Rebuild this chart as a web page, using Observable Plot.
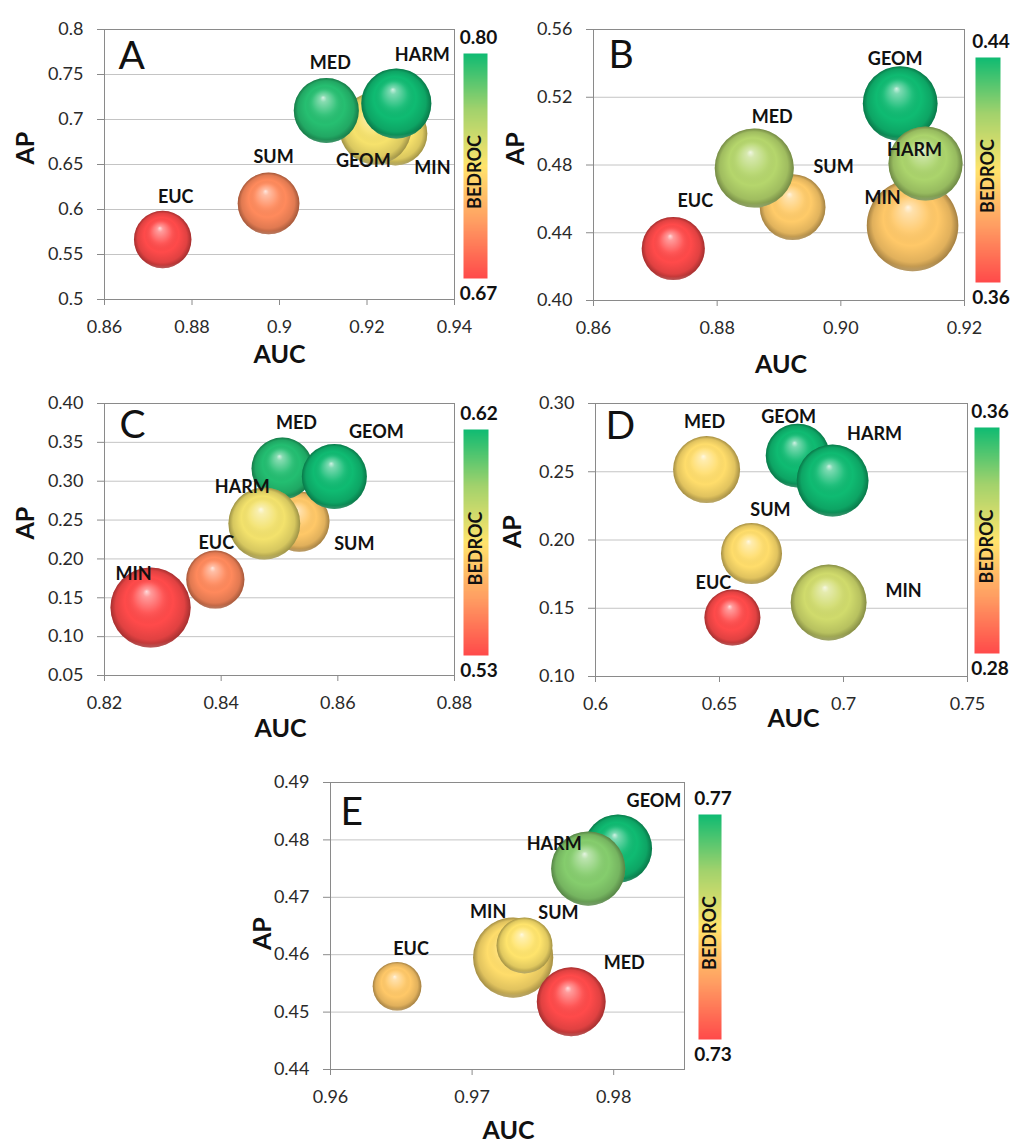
<!DOCTYPE html>
<html>
<head>
<meta charset="utf-8">
<script src="https://cdn.jsdelivr.net/npm/d3@7"></script>
<script src="https://cdn.jsdelivr.net/npm/@observablehq/plot@0.6"></script>
<style>
  html, body { margin: 0; padding: 0; background: #fff; }
  body { width: 1014px; height: 1147px; position: relative; overflow: hidden; font-family: Lato, "Open Sans", sans-serif; }
  .layer { position: absolute; left: 0; top: 0; }
  .layer svg { overflow: visible; max-width: none; }
</style>
</head>
<body>
<svg width="0" height="0" style="position:absolute">
  <defs>
    <radialGradient id="shine" cx="0.5" cy="0.5" r="0.5" fx="0.45" fy="0.3">
      <stop offset="0" stop-color="#fff" stop-opacity="0.8"/>
      <stop offset="0.1" stop-color="#fff" stop-opacity="0.45"/>
      <stop offset="0.38" stop-color="#fff" stop-opacity="0.08"/>
      <stop offset="0.6" stop-color="#000" stop-opacity="0"/>
      <stop offset="0.86" stop-color="#000" stop-opacity="0.12"/>
      <stop offset="1" stop-color="#000" stop-opacity="0.36"/>
    </radialGradient>
    <radialGradient id="rim" cx="0.5" cy="0.25" r="0.8">
      <stop offset="0.87" stop-color="#fff" stop-opacity="0"/>
      <stop offset="1" stop-color="#fff" stop-opacity="0.4"/>
    </radialGradient>
  </defs>
</svg>
<script>
// ================= DATA =================
// Panel A
const aNames  = ["EUC", "SUM", "MIN", "GEOM", "MED", "HARM"];
const aAUC    = [0.8733, 0.8975, 0.9265, 0.9219, 0.9107, 0.9267];
const aAP     = [0.5667, 0.6067, 0.6844, 0.6900, 0.7100, 0.7178];
const aBEDROC = [0.670, 0.695, 0.737, 0.738, 0.795, 0.800];
const aSize   = [39, 45, 48, 61, 50, 58];
const aXTicks = [0.86, 0.88, 0.90, 0.92, 0.94];
const aYTicks = [0.5, 0.55, 0.6, 0.65, 0.7, 0.75, 0.8];
const aBedrocRange = [0.67, 0.80];

// Panel B
const bNames  = ["EUC", "SUM", "MED", "MIN", "GEOM", "HARM"];
const bAUC    = [0.8729, 0.8922, 0.8860, 0.9116, 0.9096, 0.9137];
const bAP     = [0.4307, 0.4551, 0.4782, 0.4443, 0.5163, 0.4809];
const bBEDROC = [0.360, 0.393, 0.416, 0.392, 0.440, 0.418];
const bSize   = [47, 51, 74, 99, 66, 65];
const bXTicks = [0.86, 0.88, 0.90, 0.92];
const bYTicks = [0.40, 0.44, 0.48, 0.52, 0.56];
const bBedrocRange = [0.36, 0.44];

// Panel C
const cNames  = ["MIN", "EUC", "SUM", "MED", "GEOM", "HARM"];
const cAUC    = [0.8279, 0.8390, 0.8534, 0.8505, 0.8594, 0.8474];
const cAP     = [0.1375, 0.1735, 0.2481, 0.3164, 0.3061, 0.2456];
const cBEDROC = [0.530, 0.547, 0.566, 0.617, 0.620, 0.578];
const cSize   = [76, 40, 43, 45, 50, 61];
const cXTicks = [0.82, 0.84, 0.86, 0.88];
const cYTicks = [0.05, 0.10, 0.15, 0.20, 0.25, 0.30, 0.35, 0.40];
const cBedrocRange = [0.53, 0.62];

// Panel D
const dNames  = ["EUC", "MIN", "SUM", "MED", "GEOM", "HARM"];
const dAUC    = [0.6552, 0.6940, 0.6629, 0.6448, 0.6815, 0.6956];
const dAP     = [0.1432, 0.1542, 0.1901, 0.2516, 0.2619, 0.2436];
const dBEDROC = [0.280, 0.330, 0.318, 0.318, 0.360, 0.360];
const dSize   = [37, 68, 44, 53, 48, 61];
const dXTicks = [0.6, 0.65, 0.7, 0.75];
const dYTicks = [0.10, 0.15, 0.20, 0.25, 0.30];
const dBedrocRange = [0.28, 0.36];

// Panel E
const eNames  = ["EUC", "MIN", "SUM", "MED", "GEOM", "HARM"];
const eAUC    = [0.9647, 0.9729, 0.9737, 0.9770, 0.9803, 0.9782];
const eAP     = [0.4545, 0.4595, 0.4616, 0.4518, 0.4785, 0.4750];
const eBEDROC = [0.746, 0.749, 0.750, 0.730, 0.770, 0.762];
const eSize   = [28, 76, 37, 56, 55, 65];
const eXTicks = [0.96, 0.97, 0.98];
const eYTicks = [0.44, 0.45, 0.46, 0.47, 0.48, 0.49];
const eBedrocRange = [0.73, 0.77];

// ================= LAYOUT (pixels, styles) =================
const W = 1014, H = 1147;
const FONT = "Lato, 'Open Sans', sans-serif";
const colorStops = ["#ff4a4a", "#ff9d62", "#ffe46c", "#a2d26c", "#0fbb72"];
const interp = d3.piecewise(d3.interpolateRgb, colorStops);

const panels = [
  { letter: "A", names: aNames, auc: aAUC, ap: aAP, bedroc: aBEDROC, size: aSize,
    xTicks: aXTicks, yTicks: aYTicks, xFmt: d => String(d), yFmt: d => String(d),
    xDomain: [0.86, 0.94], yDomain: [0.5, 0.8], bedrocRange: aBedrocRange, bedrocFmt: d3.format(".2f"),
    frame: { l: 104, t: 29, r: 454, b: 299 },
    bar: { x: 463, y: 53, w: 24, h: 225 },
    letterPos: [14, 39], apPos: [-79, 0], aucPos: [0, 63],
    labels: { EUC: [13, -42], SUM: [5, -46], MED: [4, -47], HARM: [26, -48], GEOM: [-12, 33], MIN: [37, 35] } },
  { letter: "B", names: bNames, auc: bAUC, ap: bAP, bedroc: bBEDROC, size: bSize,
    xTicks: bXTicks, yTicks: bYTicks, xFmt: d3.format(".2f"), yFmt: d3.format(".2f"),
    xDomain: [0.86, 0.92], yDomain: [0.40, 0.56], bedrocRange: bBedrocRange, bedrocFmt: d3.format(".2f"),
    frame: { l: 593, t: 29, r: 964, b: 300 },
    bar: { x: 975, y: 57, w: 25, h: 225 },
    letterPos: [15, 38], apPos: [-78, 0], aucPos: [2, 72],
    labels: { EUC: [22, -47], MED: [18, -51], SUM: [41, -40], GEOM: [-5, -44], HARM: [-11, -13], MIN: [-30, -27] } },
  { letter: "C", names: cNames, auc: cAUC, ap: cAP, bedroc: cBEDROC, size: cSize,
    xTicks: cXTicks, yTicks: cYTicks, xFmt: d3.format(".2f"), yFmt: d3.format(".2f"),
    xDomain: [0.82, 0.88], yDomain: [0.05, 0.40], bedrocRange: cBedrocRange, bedrocFmt: d3.format(".2f"),
    frame: { l: 104, t: 403, r: 454, b: 675 },
    bar: { x: 463, y: 429, w: 25, h: 226 },
    letterPos: [15, 34], apPos: [-79, 0], aucPos: [1, 61],
    labels: { MIN: [-17, -33], EUC: [1, -36], HARM: [-22, -36], SUM: [55, 23], MED: [14, -45], GEOM: [42, -44] } },
  { letter: "D", names: dNames, auc: dAUC, ap: dAP, bedroc: dBEDROC, size: dSize,
    xTicks: dXTicks, yTicks: dYTicks, xFmt: d => String(d), yFmt: d3.format(".2f"),
    xDomain: [0.6, 0.75], yDomain: [0.10, 0.30], bedrocRange: dBedrocRange, bedrocFmt: d3.format(".2f"),
    frame: { l: 595, t: 403, r: 967, b: 676 },
    bar: { x: 974, y: 427, w: 25, h: 226 },
    letterPos: [10, 35], apPos: [-83, 8], aucPos: [12, 50],
    labels: { MED: [-2, -47], GEOM: [-9, -38], HARM: [42, -46], SUM: [19, -43], EUC: [-19, -34], MIN: [75, -11] } },
  { letter: "E", names: eNames, auc: eAUC, ap: eAP, bedroc: eBEDROC, size: eSize,
    xTicks: eXTicks, yTicks: eYTicks, xFmt: d3.format(".2f"), yFmt: d3.format(".2f"),
    xDomain: [0.96, 0.985], yDomain: [0.44, 0.49], bedrocRange: eBedrocRange, bedrocFmt: d3.format(".2f"),
    frame: { l: 330, t: 782, r: 684, b: 1069 },
    bar: { x: 698, y: 814, w: 23, h: 225 },
    letterPos: [10, 42], apPos: [-68, 24], aucPos: [1, 69],
    labels: { EUC: [14, -37], MIN: [-25, -45], SUM: [34, -32], MED: [53, -39], HARM: [-34, -24], GEOM: [36, -47] } }
];

// 3D sphere look: after the library draws each circle, add shading overlays on top of it
function sphere(index, scales, values, dims, ctx, next) {
  const g = next(index, scales, values, dims, ctx);
  for (const c of Array.from(g.querySelectorAll("circle"))) {
    const s = c.cloneNode(false);
    s.setAttribute("fill", "url(#shine)");
    s.removeAttribute("stroke");
    const rim = c.cloneNode(false);
    rim.setAttribute("fill", "url(#rim)");
    rim.removeAttribute("stroke");
    c.after(s);
    s.after(rim);
  }
  return g;
}

function addLayer(node, left, top) {
  const div = document.createElement("div");
  div.className = "layer";
  div.style.left = left + "px";
  div.style.top = top + "px";
  div.appendChild(node);
  document.body.appendChild(div);
}

for (const p of panels) {
  const rows = p.names.map((name, i) => ({ name, auc: p.auc[i], ap: p.ap[i], bedroc: p.bedroc[i], size: p.size[i] }));
  const colorOpt = { type: "linear", domain: p.bedrocRange, interpolate: interp };
  const f = p.frame;

  const labelMarks = rows.map(r => {
    const off = p.labels[r.name] || [0, -40];
    return Plot.text([r], { x: "auc", y: "ap", text: "name", dx: off[0], dy: off[1],
      fontSize: 18, fontWeight: "bold", fill: "#111", fontFamily: FONT });
  });

  const chart = Plot.plot({
    width: W, height: H,
    marginLeft: f.l, marginRight: W - f.r, marginTop: f.t, marginBottom: H - f.b,
    style: { background: "transparent", fontFamily: FONT, overflow: "visible", maxWidth: "none" },
    x: { domain: p.xDomain },
    y: { domain: p.yDomain },
    r: { type: "sqrt", domain: [0, 100], range: [0, 46] },
    color: colorOpt,
    marks: [
      Plot.gridY(p.yTicks, { stroke: "#c4c4c4", strokeOpacity: 1 }),
      Plot.frame({ stroke: "#8a8a8a" }),
      Plot.axisY(p.yTicks, { tickSize: 7, tickPadding: 14, tickFormat: p.yFmt, fontSize: 18,
        stroke: "#8a8a8a", fill: "#2a2a2a", label: null }),
      Plot.axisX(p.xTicks, { tickSize: 6, tickPadding: 15, tickFormat: p.xFmt, fontSize: 18,
        stroke: "#8a8a8a", fill: "#2a2a2a", label: null }),
      Plot.dot(rows, { x: "auc", y: "ap", r: "size", fill: "bedroc", sort: null, render: sphere }),
      ...labelMarks,
      Plot.text(["AUC"], { text: d => d, frameAnchor: "bottom", dx: p.aucPos[0], dy: p.aucPos[1],
        fontSize: 25, fontWeight: "bold", fill: "#111", fontFamily: FONT }),
      Plot.text(["AP"], { text: d => d, frameAnchor: "left", dx: p.apPos[0], dy: p.apPos[1], rotate: -90,
        fontSize: 25, fontWeight: "bold", fill: "#111", fontFamily: FONT }),
      Plot.text([p.letter], { text: d => d, frameAnchor: "top-left", dx: p.letterPos[0], dy: p.letterPos[1],
        textAnchor: "start", lineAnchor: "bottom", fontSize: 39, fill: "#111", fontFamily: FONT })
    ]
  });
  addLayer(chart, 0, 0);

  // colour bar (legend) drawn from the same colour scale
  const b = p.bar, padX = 30, padY = 35;
  const lo = p.bedrocRange[0], hi = p.bedrocRange[1];
  const bar = Plot.plot({
    width: b.w + 2 * padX, height: b.h + 2 * padY,
    marginLeft: padX, marginRight: padX, marginTop: padY, marginBottom: padY,
    style: { background: "transparent", fontFamily: FONT, overflow: "visible", maxWidth: "none" },
    x: { domain: [0, 1], axis: null },
    y: { domain: [lo, hi], axis: null },
    color: colorOpt,
    marks: [
      Plot.raster({ x1: 0, x2: 1, y1: lo, y2: hi, width: 1, height: 256, fill: (x, y) => y, imageRendering: "auto" }),
      Plot.text([hi], { text: p.bedrocFmt, frameAnchor: "top", dx: 3, dy: -10, lineAnchor: "bottom",
        fontSize: 19, fontWeight: "bold", fill: "#111", fontFamily: FONT }),
      Plot.text([lo], { text: p.bedrocFmt, frameAnchor: "bottom", dx: 3, dy: 8, lineAnchor: "top",
        fontSize: 19, fontWeight: "bold", fill: "#111", fontFamily: FONT }),
      Plot.text(["BEDROC"], { text: d => d, frameAnchor: "middle", dy: 6, rotate: -90,
        fontSize: 18, fontWeight: "bold", fill: "#111", fontFamily: FONT })
    ]
  });
  addLayer(bar, b.x - padX, b.y - padY);
}
</script>
</body>
</html>
